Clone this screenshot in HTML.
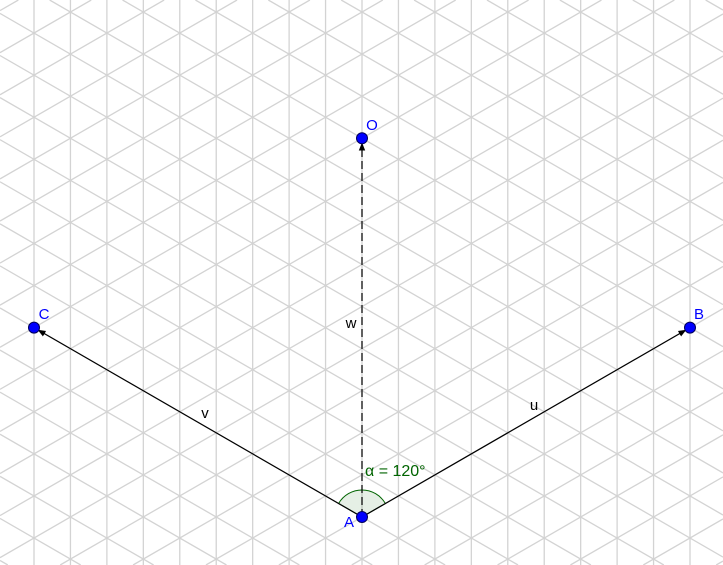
<!DOCTYPE html>
<html><head><meta charset="utf-8"><style>
html,body{margin:0;padding:0;background:#fff;width:723px;height:565px;overflow:hidden;}
svg{display:block;font-family:"Liberation Sans",sans-serif;}
</style></head><body>
<svg id="fig" width="723" height="565" viewBox="0 0 723 565" xmlns="http://www.w3.org/2000/svg">
<defs>
<marker id="arr" viewBox="0 0 10 10" refX="9" refY="5" markerWidth="8" markerHeight="9" orient="auto" markerUnits="userSpaceOnUse">
<path d="M0,1 L10,5 L0,9 Z" fill="#000"/>
</marker>
</defs>
<g id="grid" stroke="#d3d3d3" stroke-width="1.3"></g>
<g id="marks"></g>
</svg>
<script>
// geometry data (grid units: columns along x, half-rows along y)
const pointNames = ["A","O","B","C"];
const pointCol = [0, 0, 9, -9];
const pointRow = [0, 9, 4.5, 4.5];
const vectorNames = ["u","v","w"];
const vectorFrom = ["A","A","A"];
const vectorTo = ["B","C","O"];
const angleValue = [120];

const NS="http://www.w3.org/2000/svg";
const W=723,H=565;
const ax=362, ay=517, dx=328/9, dy=2*dx/Math.sqrt(3);
const X=c=>ax+c*dx, Y=r=>ay-r*dy;
function mk(tag,attrs,parent){const e=document.createElementNS(NS,tag);for(const k in attrs)e.setAttribute(k,attrs[k]);parent.appendChild(e);return e;}
const grid=document.getElementById('grid'), marks=document.getElementById('marks');
for(let c=-12;c<=12;c++){const x=X(c);if(x<0||x>W)continue;
 const l=mk('line',{x1:x,y1:0,x2:x,y2:H},grid);
 
 }
const t=1/Math.sqrt(3);
for(let k=-40;k<=40;k++){
 const b=ay+k*dy;
 [1,-1].forEach(s=>{
  const m=s*t, f=x=>b+m*(x-ax), g=y=>ax+(y-b)/m;
  // x-range where 0<=y<=H
  let xa=g(0), xb=g(H); let lo=Math.max(0,Math.min(xa,xb)), hi=Math.min(W,Math.max(xa,xb));
  if(hi-lo<0.5)return;
  const l=mk('line',{x1:lo,y1:f(lo),x2:hi,y2:f(hi)},grid);
  
  
 });
}
const P={};pointNames.forEach((n,i)=>P[n]=[X(pointCol[i]),Y(pointRow[i])]);
{const r=27,[x,y]=P.A,a1=30*Math.PI/180,a2=(30+angleValue[0])*Math.PI/180;
 const p=mk('path',{d:`M${x},${y} L${x+r*Math.cos(a1)},${y-r*Math.sin(a1)} A${r},${r} 0 0 0 ${x+r*Math.cos(a2)},${y-r*Math.sin(a2)} Z`,fill:'rgba(0,100,0,0.1)',stroke:'#006400','stroke-width':1},marks);
 
 
 const tx=mk('text',{x:365,y:476,fill:'#006400','font-size':16},marks);tx.textContent='α = '+angleValue[0]+'°';
 
 }
const labelPos={u:[534,410],v:[205,418],w:[351,328]};
vectorNames.forEach((n,i)=>{const a=P[vectorFrom[i]],b=P[vectorTo[i]];
 const ux=b[0]-a[0],uy=b[1]-a[1],L=Math.hypot(ux,uy);
 const l=mk('line',{x1:a[0],y1:a[1],x2:b[0]-ux/L*5,y2:b[1]-uy/L*5,stroke:'#000','stroke-width':1.2,'marker-end':'url(#arr)'},marks);
 if(n==='w')l.setAttribute('stroke-dasharray','8 4');
 
 
 const tx=mk('text',{x:labelPos[n][0],y:labelPos[n][1],'font-size':15,fill:'#000','text-anchor':'middle'},marks);tx.textContent=n;
 
 });
const ptLabel={A:[349,527],O:[372,130],B:[699,319],C:[44,319]};
pointNames.forEach(n=>{const [x,y]=P[n];
 const c=mk('circle',{cx:x,cy:y,r:5.5,fill:'#0000ff',stroke:'#00005a','stroke-width':1},marks);
 
 
 const tx=mk('text',{x:ptLabel[n][0],y:ptLabel[n][1],'font-size':15,fill:'#0000ff','text-anchor':'middle'},marks);tx.textContent=n;
 
 });
</script>
</body></html>
